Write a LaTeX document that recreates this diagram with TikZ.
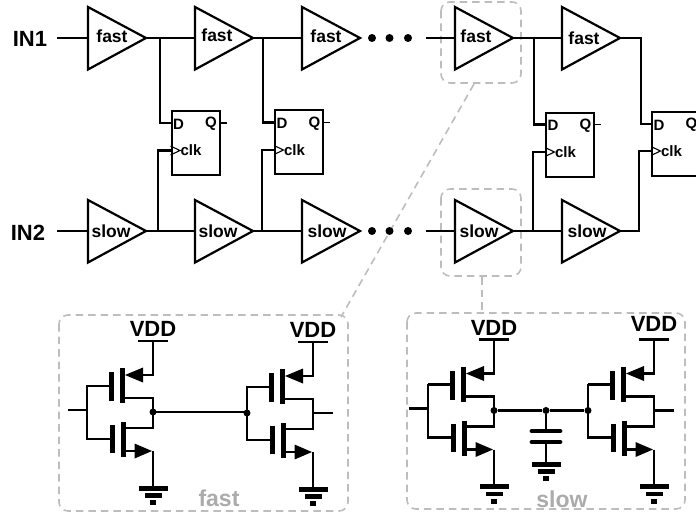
\documentclass[tikz,border=0pt]{standalone}
\usepackage{fontspec}
\usetikzlibrary{calc}
\setmainfont{Liberation Sans}
\definecolor{dashgray}{HTML}{BDBDBD}
\definecolor{labelgray}{HTML}{ABABAB}
\tikzset{
  wire/.style={line width=2.2pt,line cap=butt,line join=miter},
  thinwire/.style={line width=1.1pt},
  dashbox/.style={draw=dashgray,line width=1.6pt,dash pattern=on 7.5pt off 5pt,rounded corners=9pt},
  dashlink/.style={draw=dashgray,line width=1.6pt,dash pattern=on 7.5pt off 5pt},
  buflabel/.style={inner sep=0pt,font=\bfseries\fontsize{17.5}{17.5}\selectfont},
  inlabel/.style={inner sep=0pt,font=\bfseries\fontsize{22}{22}\selectfont},
  fflabel/.style={inner sep=0pt,font=\bfseries\fontsize{15}{15}\selectfont},
  vddlabel/.style={inner sep=0pt,font=\bfseries\fontsize{22}{22}\selectfont},
  graylabel/.style={inner sep=0pt,text=labelgray,font=\bfseries\fontsize{23}{23}\selectfont},
  junction/.style={circle,fill=black,inner sep=0pt,minimum size=7pt},
  ellipsisdot/.style={circle,fill=black,inner sep=0pt,minimum size=8pt},
  ffbox/.style={draw,line width=2.2pt,rectangle,inner sep=0pt,anchor=north west}
}
% buffer: name, left x, mid y, label x, label y, text
\newcommand{\bufcell}[6]{%
  \coordinate (#1in) at (#2,#3);
  \coordinate (#1out) at ($(#1in)+(58,0)$);
  \draw[wire,line join=miter,miter limit=3] ($(#1in)+(0,-31)$) -- (#1out) -- ($(#1in)+(0,31.5)$) -- cycle;
  \node[buflabel] (#1txt) at (#4,#5) {#6};
}
% flip-flop: name, left x, top y, Dy, clky
\newcommand{\ffcell}[5]{%
  \node[ffbox,minimum width=48pt,minimum height=64pt] (#1) at (#2,#3) {};
  \coordinate (#1d) at (#2,#4);
  \coordinate (#1c) at (#2,#5);
  \draw[thinwire,line join=miter] ($(#1c)+(0,-4.5)$) -- ($(#1c)+(9.5,0)$) -- ($(#1c)+(0,4.5)$);
  \node[fflabel] (#1dt) at ($(#1d)+(8,1)$) {D};
  \node[fflabel] (#1qt) at ($(#1d)+(40.5,1)$) {Q};
  \node[fflabel] (#1ct) at ($(#1c)+(20.5,0)$) {clk};
}
% ground: name, x, y of top bar
\newcommand{\gnd}[3]{%
  \coordinate (#1) at (#2,#3);
  \fill ($(#1)+(-14.5,-2.5)$) rectangle ($(#1)+(14.5,2.5)$);
  \fill ($(#1)+(-8.5,5)$) rectangle ($(#1)+(8.5,9.5)$);
  \fill ($(#1)+(-3,12)$) rectangle ($(#1)+(3,17)$);
}
% inverter: name, shift x, shift y, VDD label y, extra
\newcommand{\invcell}[5]{%
  \begin{scope}[shift={(#2,#3)}]
    \coordinate (#1vdd) at (153,341);
    \coordinate (#1ps) at (153,375);
    \coordinate (#1pd) at (153,398);
    \coordinate (#1o) at (153,412);
    \coordinate (#1nd) at (153,428);
    \coordinate (#1ns) at (153,451);
    \coordinate (#1g) at (87,412);
    \coordinate (#1gnd) at (153,488);
    \node[vddlabel] (#1vt) at (153,#4) {VDD};
    \draw[line width=2.6pt] (138,341) -- (168,341);
    \draw[wire] (#1vdd) -- (#1ps) -- (143,375);
    \fill (125,375) -- (143,367.5) -- (143,382.5) -- cycle;
    \draw[line width=5pt] (122,368) -- (122,403);
    \draw[line width=5pt] (111,372) -- (111,401);
    \draw[wire] (87,386) -- (111,386);
    \draw[wire] (122,398) -- (#1pd) -- (#1nd) -- (123,428);
    \draw[line width=5pt] (123,422) -- (123,457);
    \draw[line width=5pt] (112,425) -- (112,453);
    \draw[wire] (87,439) -- (112,439);
    \draw[wire] (87,385) -- (87,440);
    \draw[wire] (123,451) -- (135,451);
    \fill (152,451) -- (134.5,443.5) -- (134.5,458.5) -- cycle;
    \draw[wire] (#1ns) -- (#1gnd);
    \gnd{#1ground}{153}{488}
    #5
  \end{scope}
}
\begin{document}
\begin{tikzpicture}[x=1pt,y=-1pt]
\useasboundingbox (0,0) rectangle (696,516);

% dashed frames, behind everything
\draw[dashbox] (441,2) rectangle (521,83);
\draw[dashbox] (441,189) rectangle (521,276);
\draw[dashbox] (59,315) rectangle (348,511);
\draw[dashbox] (407,313) rectangle (685,509);
\coordinate (flinkA) at (474,84);
\coordinate (flinkB) at (341,317);
\coordinate (slinkA) at (482,277);
\coordinate (slinkB) at (482,313);
\draw[dashlink] (flinkA) -- (flinkB);
\draw[dashlink] (slinkA) -- (slinkB);

% inputs
\node[inlabel] (in1) at (30,39) {IN1};
\node[inlabel] (in2) at (28,233) {IN2};

% buffers
\bufcell{fa}{88}{38}{112}{36}{fast}
\bufcell{fb}{195}{38}{217}{35}{fast}
\bufcell{fc}{302}{38}{326}{36}{fast}
\bufcell{fd}{455}{38}{476}{36}{fast}
\bufcell{fe}{562}{38}{584}{38}{fast}
\bufcell{sa}{88}{231}{111}{231}{slow}
\bufcell{sb}{195}{231}{218}{231}{slow}
\bufcell{sc}{302}{231}{327}{231}{slow}
\bufcell{sd}{455}{231}{479}{231}{slow}
\bufcell{se}{562}{231}{587}{231}{slow}

% flip-flops
\ffcell{ffa}{170.5}{110}{123}{150.5}
\ffcell{ffb}{274}{109}{122.5}{150}
\ffcell{ffc}{545}{112}{124.5}{152}
\ffcell{ffd}{651}{111}{124}{151}

% input stubs
\coordinate (ia) at (57,38);
\coordinate (ib) at (57,231);
\draw[wire] (ia) -- (fain);
\draw[wire] (ib) -- (sain);

% chain wires
\draw[wire] (faout) -- (fbin);
\draw[wire] (fbout) -- (fcin);
\draw[wire] (fdout) -- (fein);
\draw[wire] (saout) -- (sbin);
\draw[wire] (sbout) -- (scin);
\draw[wire] (sdout) -- (sein);
\coordinate (fdstub) at (426,38);
\coordinate (sdstub) at (426,231);
\draw[wire] (fdstub) -- (fdin);
\draw[wire] (sdstub) -- (sdin);

% flip-flop connections
\draw[wire] (160,38) -- (160,123) -- (ffad);
\draw[wire] (158,231) -- (158,150.5) -- (ffac);
\draw[wire] (263,38) -- (263,122.5) -- (ffbd);
\draw[wire] (262,231) -- (262,150) -- (ffbc);
\draw[wire] (534,38) -- (534,124.5) -- (ffcd);
\draw[wire] (533,231) -- (533,152) -- (ffcc);
\draw[wire] (feout) -- (641,38) -- (641,124) -- (ffdd);
\draw[wire] (seout) -- (639,231) -- (639,151) -- (ffdc);

% Q stubs
\coordinate (qa) at (226.5,123);
\coordinate (qb) at (330,122.5);
\coordinate (qc) at (600.5,124.5);
\draw[thinwire] (ffa.east |- qa) -- (qa);
\draw[thinwire] (ffb.east |- qb) -- (qb);
\draw[thinwire] (ffc.east |- qc) -- (qc);

% ellipses
\node[ellipsisdot] (d1) at (372,38) {};
\node[ellipsisdot] (d2) at (389.5,38) {};
\node[ellipsisdot] (d3) at (408,38) {};
\node[ellipsisdot] (d4) at (372,231) {};
\node[ellipsisdot] (d5) at (389.5,231) {};
\node[ellipsisdot] (d6) at (408,231) {};

% fast detail
\invcell{ia}{0}{0}{329}{\coordinate (iaxi) at (68,410);\draw[wire] (iaxi) -- (87,410);}
\invcell{ib}{160}{1}{329}{\coordinate (ibxo) at (173,412);\draw[wire] (153,412) -- (ibxo);}
\node[junction] (ja) at (iao) {};
\node[junction] (jb) at (ibg) {};
\draw[wire] (ja.center) -- (ja.center -| jb.center);
\node[graylabel] (fastt) at (219,498) {fast};

% slow detail
\invcell{ic}{341}{-1.5}{329.5}{\coordinate (icxi) at (68,410);\draw[wire] (icxi) -- (87,410);}
\invcell{id}{501}{-1.5}{325.5}{\coordinate (idxo) at (173,412);\draw[wire] (153,412) -- (idxo);}
\node[junction] (jc) at (ico) {};
\node[junction] (jd) at (idg) {};
\node[junction] (je) at (546,410.5) {};
\draw[wire] (jc) -- (je) -- (jd);
\coordinate (capt) at (546,431);
\coordinate (capb) at (546,442);
\coordinate (capg) at (546,464);
\draw[wire] (je) -- (capt);
\draw[wire] (capb) -- (capg);
\draw[line width=4.8pt,line cap=round] (532,431) -- (560,431);
\draw[line width=4.8pt,line cap=round] (532,442) -- (560,442);
\gnd{capgnd}{546}{464}
\node[graylabel] (slowt) at (562,499) {slow};
\end{tikzpicture}
\end{document}
